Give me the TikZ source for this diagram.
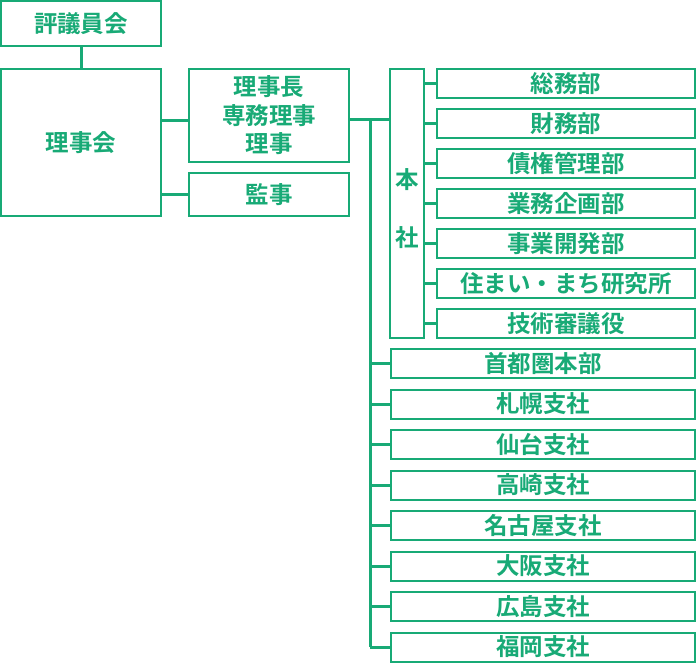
\documentclass[tikz,border=0pt]{standalone}
\usepackage{fontspec}
\setmainfont{Noto Sans CJK JP}[BoldFont={* Bold}]
\definecolor{grn}{RGB}{24,170,118}
\begin{document}
\begin{tikzpicture}[x=1pt,y=-1pt,
  box/.style={draw=grn,line width=2pt,inner sep=0pt,text=grn,font=\fontsize{23.5}{28.5}\selectfont\bfseries,align=center},
  con/.style={draw=grn,line width=3pt}]
\useasboundingbox (0,0) rectangle (696,665);
\newcommand\bx[6]{\node[box,minimum width=#3-#1,minimum height=#4-#2] (#5) at ({(#1+#3)/2},{(#2+#4)/2}) {#6};}
\bx{1}{1}{161}{46}{hyo}{評議員会}
\bx{1}{69}{161}{216}{rij}{理事会}
\bx{189}{69}{349}{162}{cho}{理事長\\専務理事\\理事}
\bx{189}{173}{349}{216}{kan}{監事}
\bx{390}{69}{424}{338}{hon}{}
\node[text=grn,font=\fontsize{23.5}{28}\selectfont\bfseries] at (407,180) {本};
\node[text=grn,font=\fontsize{23.5}{28}\selectfont\bfseries] at (407,238) {社};
\foreach \t [count=\i from 0] in {総務部,財務部,債権管理部,業務企画部,事業開発部,住まい・まち研究所,技術審議役}{
  \pgfmathsetmacro\ya{69+40*\i}\pgfmathsetmacro\yb{\ya+29}
  \bx{437}{\ya}{695}{\yb}{h\i}{\t}
  \draw[con] (hon.east |- h\i.west) -- (h\i.west);
}
\coordinate (trunk) at (370,119);
\foreach \t [count=\i from 0] in {首都圏本部,札幌支社,仙台支社,高崎支社,名古屋支社,大阪支社,広島支社,福岡支社}{
  \pgfmathsetmacro\ya{349+40.5*\i}\pgfmathsetmacro\yb{\ya+29}
  \bx{391}{\ya}{695}{\yb}{b\i}{\t}
  \draw[con] (trunk |- b\i.west) -- (b\i.west);
}
\draw[con] (hyo) -- (rij);
\draw[con] (rij.east |- 0,120) -- (cho.west |- 0,120);
\draw[con] (rij.east |- kan.west) -- (kan.west);
\draw[con] (cho.east |- trunk) -- (hon.west |- trunk);
\draw[con] ([yshift=-1.5pt]trunk) -- (trunk |- b7.west);
\end{tikzpicture}
\end{document}
